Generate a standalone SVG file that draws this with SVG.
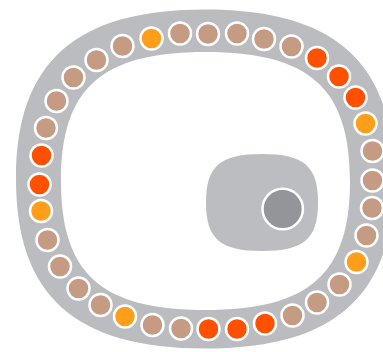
<svg xmlns="http://www.w3.org/2000/svg" width="383" height="352" viewBox="0 0 383 352">
<style>
.ring{fill:#bbbcbf;fill-rule:evenodd}
.nuc{fill:#bcbdc0}
.dot{stroke:#ffffff;stroke-width:2.5}
.b{fill:#c69b84}
.r{fill:#ff5000}
.o{fill:#ff9e1b}
.core{fill:#949599;stroke:#ffffff;stroke-width:2.5}
</style>
<rect width="383" height="352" fill="#ffffff"/>
<g id="ring">
<path class="ring" d="M394,179 C394,295.6 335,348.5 205,348.5 C75,348.5 16,295.6 16,179 C16,62.4 75,9.5 205,9.5 C335,9.5 394,62.4 394,179 Z M350,181 C350,273.9 309.5,310 205.5,310 C101.5,310 61,273.9 61,181 C61,88.1 101.5,52 205.5,52 C309.5,52 350,88.1 350,181 Z"/>
</g>
<g id="nucleus">
<path class="nuc" d="M318,202.5 C318,238.9 304,251 262,251 C220,251 206,238.9 206,202.5 C206,166.1 220,154 262,154 C304,154 318,166.1 318,202.5 Z"/>
<circle class="core" cx="282.7" cy="209" r="20.2"/>
</g>
<g id="connectors"></g>
<g id="dots">
<g id="d1"><circle class="dot b" cx="122.5" cy="46" r="11"/></g>
<g id="d2"><circle class="dot o" cx="151.5" cy="38.5" r="11"/></g>
<g id="d3"><circle class="dot b" cx="180" cy="33.5" r="11"/></g>
<g id="d4"><circle class="dot b" cx="208" cy="34" r="11"/></g>
<g id="d5"><circle class="dot b" cx="237" cy="33.5" r="11"/></g>
<g id="d6"><circle class="dot b" cx="264" cy="39" r="11"/></g>
<g id="d7"><circle class="dot b" cx="291.5" cy="46.5" r="11"/></g>
<g id="d8"><circle class="dot r" cx="317" cy="58" r="11"/></g>
<g id="d9"><circle class="dot r" cx="339" cy="76.5" r="11"/></g>
<g id="d10"><circle class="dot r" cx="355.5" cy="97.5" r="11"/></g>
<g id="d11"><circle class="dot o" cx="365.5" cy="123.5" r="11"/></g>
<g id="d12"><circle class="dot b" cx="372.5" cy="151" r="11"/></g>
<g id="d13"><circle class="dot b" cx="372.5" cy="180.5" r="11"/></g>
<g id="d14"><circle class="dot b" cx="372" cy="208" r="11"/></g>
<g id="d15"><circle class="dot b" cx="366.5" cy="235.5" r="11"/></g>
<g id="d16"><circle class="dot o" cx="356.5" cy="262" r="11"/></g>
<g id="d17"><circle class="dot b" cx="339.5" cy="284.5" r="11"/></g>
<g id="d18"><circle class="dot b" cx="317" cy="302.5" r="11"/></g>
<g id="d19"><circle class="dot b" cx="292.5" cy="315.5" r="11"/></g>
<g id="d20"><circle class="dot r" cx="265" cy="323.5" r="11"/></g>
<g id="d21"><circle class="dot r" cx="237" cy="329" r="11"/></g>
<g id="d22"><circle class="dot r" cx="208.5" cy="329" r="11"/></g>
<g id="d23"><circle class="dot b" cx="181" cy="328.5" r="11"/></g>
<g id="d24"><circle class="dot b" cx="152.5" cy="325" r="11"/></g>
<g id="d25"><circle class="dot o" cx="125" cy="316.5" r="11"/></g>
<g id="d26"><circle class="dot b" cx="100.5" cy="305" r="11"/></g>
<g id="d27"><circle class="dot b" cx="78.5" cy="288.5" r="11"/></g>
<g id="d28"><circle class="dot b" cx="60" cy="266.5" r="11"/></g>
<g id="d29"><circle class="dot b" cx="47.5" cy="240" r="11"/></g>
<g id="d30"><circle class="dot o" cx="41" cy="211" r="11"/></g>
<g id="d31"><circle class="dot r" cx="39.5" cy="184.5" r="11"/></g>
<g id="d32"><circle class="dot r" cx="41.5" cy="155.5" r="11"/></g>
<g id="d33"><circle class="dot b" cx="46" cy="128" r="11"/></g>
<g id="d34"><circle class="dot b" cx="56.5" cy="101" r="11"/></g>
<g id="d35"><circle class="dot b" cx="73.5" cy="77.5" r="11"/></g>
<g id="d36"><circle class="dot b" cx="96.5" cy="60" r="11"/></g>
</g>
</svg>
